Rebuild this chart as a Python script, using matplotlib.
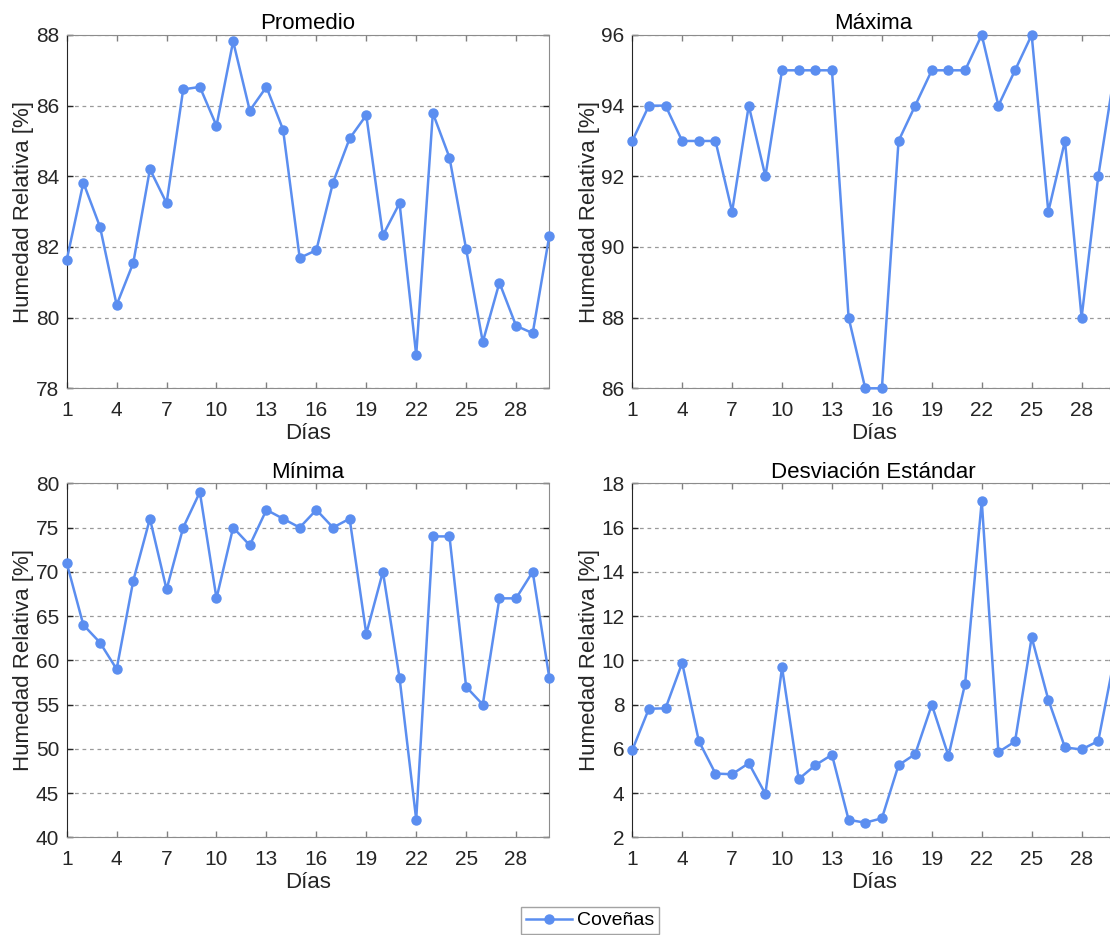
import matplotlib.pyplot as plt

plt.rcParams['font.family'] = ['Liberation Sans', 'DejaVu Sans']

# Humedad relativa diaria - Coveñas
dias = list(range(1, 31))
promedio = [81.63, 83.82, 82.57, 80.36, 81.55, 84.20, 83.24, 86.46, 86.53, 85.43,
            87.82, 85.86, 86.53, 85.32, 81.69, 81.91, 83.82, 85.07, 85.73, 82.33,
            83.24, 78.94, 85.79, 84.53, 81.94, 79.31, 80.99, 79.77, 79.56, 82.32]
maxima = [93, 94, 94, 93, 93, 93, 91, 94, 92, 95, 95, 95, 95, 88, 86,
          86, 93, 94, 95, 95, 95, 96, 94, 95, 96, 91, 93, 88, 92, 95]
minima = [71, 64, 62, 59, 69, 76, 68, 75, 79, 67, 75, 73, 77, 76, 75,
          77, 75, 76, 63, 70, 58, 42, 74, 74, 57, 55, 67, 67, 70, 58]
desviacion = [5.94, 7.81, 7.83, 9.88, 6.35, 4.88, 4.85, 5.35, 3.96, 9.68,
              4.63, 5.26, 5.73, 2.79, 2.66, 2.86, 5.26, 5.76, 7.99, 5.68,
              8.94, 17.2, 5.85, 6.33, 11.04, 8.22, 6.06, 5.97, 6.35, 10.2]

titulos = ['Promedio', 'Máxima', 'Mínima', 'Desviación Estándar']
series = [promedio, maxima, minima, desviacion]
limites_y = [(78, 88, 2), (86, 96, 2), (40, 80, 5), (2, 18, 2)]
xticks = list(range(1, 29, 3))

color = '#5b8ef0'

fig = plt.figure(figsize=(11.1, 9.35), dpi=100)
posiciones = [
    [0.0601, 0.5847, 0.4348, 0.3779],
    [0.5696, 0.5847, 0.4348, 0.3779],
    [0.0601, 0.1045, 0.4348, 0.3786],
    [0.5696, 0.1045, 0.4348, 0.3786],
]

for pos, titulo, datos, (ymin, ymax, paso) in zip(posiciones, titulos, series, limites_y):
    ax = fig.add_axes(pos)
    linea, = ax.plot(dias, datos, '-o', color=color, lw=1.8, ms=6.5, label='Coveñas',
                     clip_on=False, zorder=3)
    ax.set_xlim(1, 30)
    ax.set_ylim(ymin, ymax)
    ax.set_xticks(xticks)
    ax.set_yticks(list(range(ymin, ymax + 1, paso)))
    ax.grid(axis='y', color='#9a9a9a', linestyle=(0, (3, 3)), lw=0.9)
    ax.set_axisbelow(True)
    ax.tick_params(direction='in', top=True, right=True, length=4, width=1,
                   colors='#262626', labelsize=15, pad=5.5)
    ax.tick_params(axis='x', colors='#808080', labelcolor='#262626', pad=9)
    for lado in ['top', 'right', 'bottom']:
        ax.spines[lado].set_color('#8c8c8c')
    ax.spines['left'].set_color('#262626')
    ax.set_title(titulo, fontsize=16, color='black', pad=4)
    ax.set_xlabel('Días', fontsize=16, color='#262626', labelpad=2)
    ax.set_ylabel('Humedad Relativa [%]', fontsize=16, color='#262626', labelpad=1)

# Leyenda
leg = fig.legend(handles=[linea], loc='upper center', bbox_to_anchor=(0.5315, 0.0300),
                 fontsize=14, frameon=True, fancybox=False, edgecolor='#8c8c8c',
                 handlelength=2.4, handletextpad=0.25, borderpad=0.25,
                 borderaxespad=0)
leg.get_frame().set_linewidth(1)

fig.savefig('out.png', dpi=100)
